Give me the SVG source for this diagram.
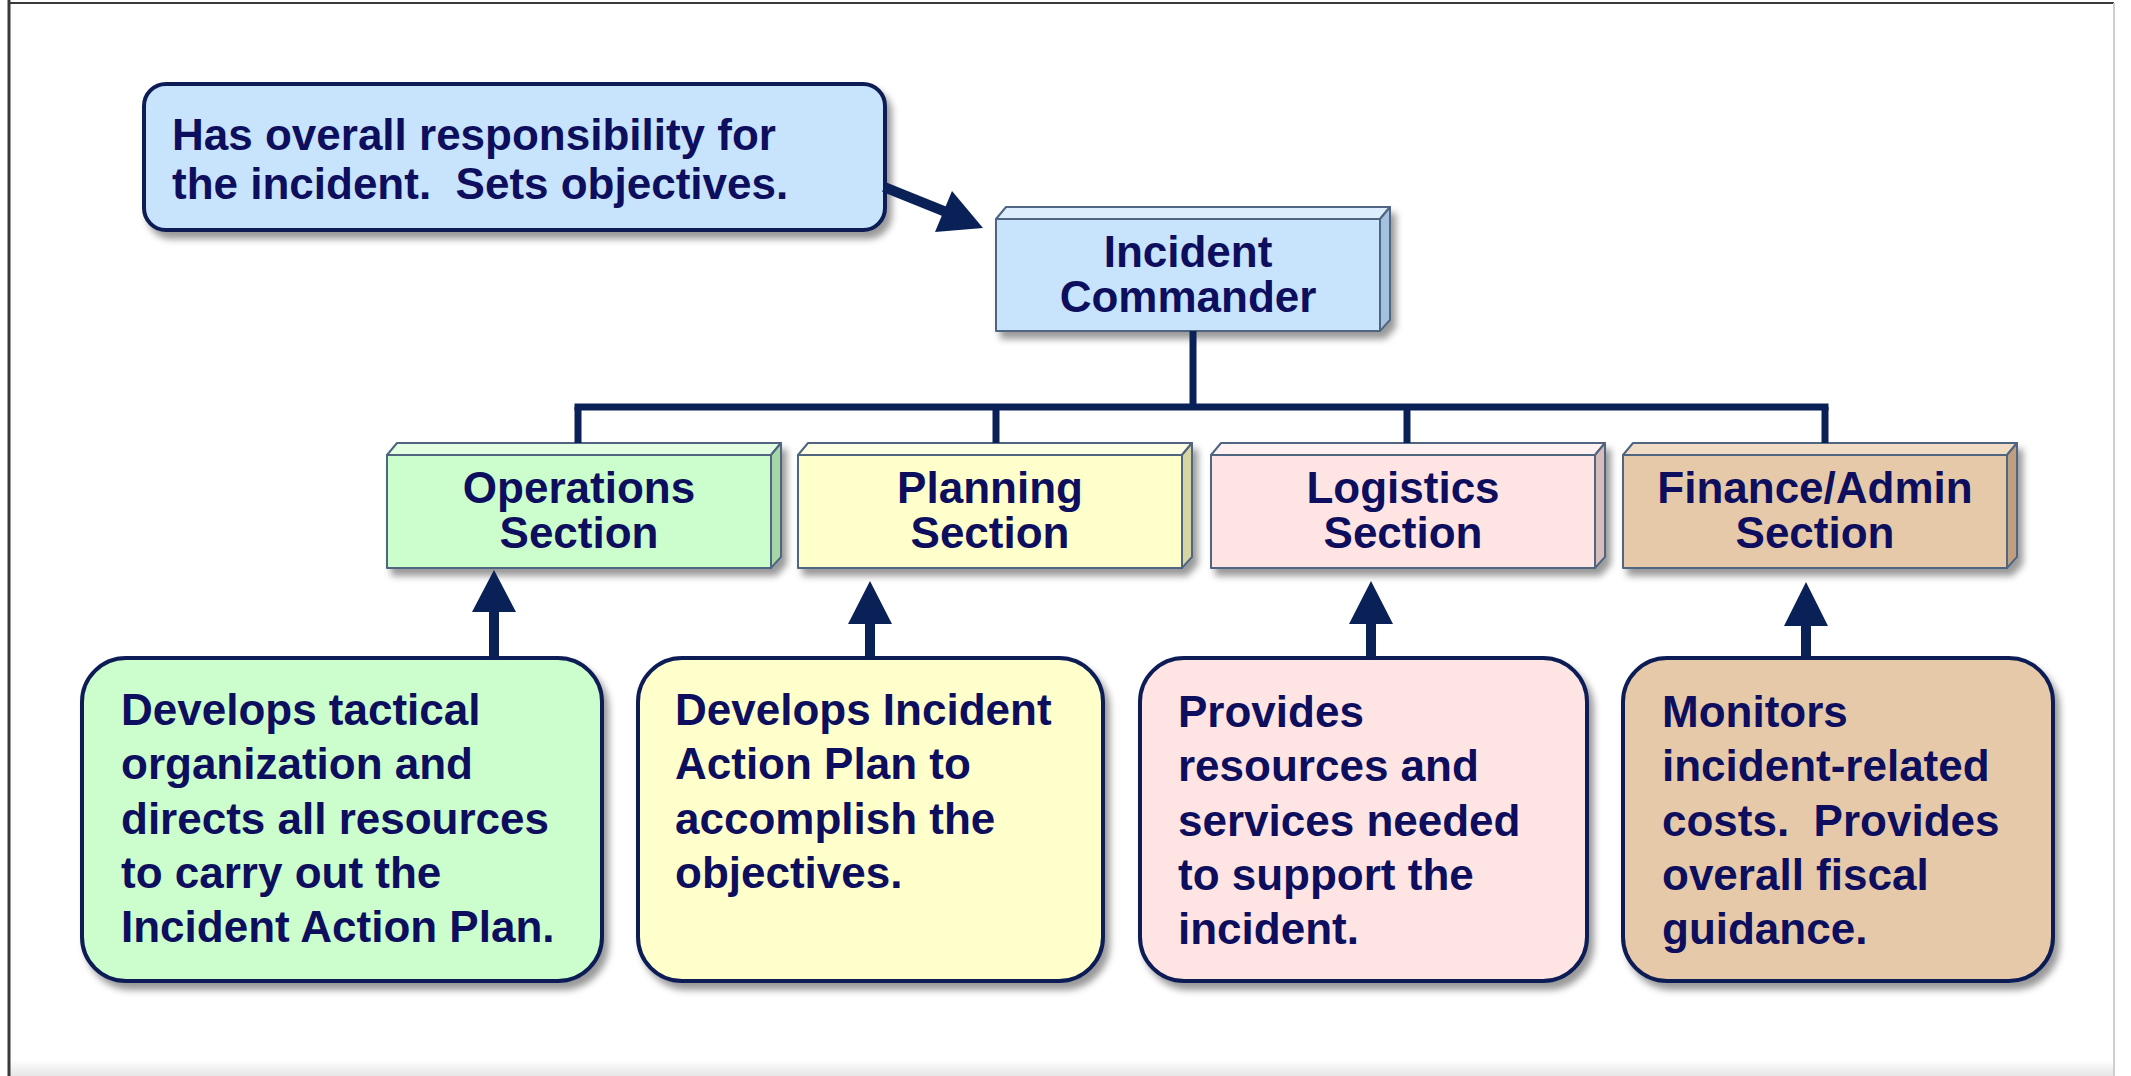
<svg xmlns="http://www.w3.org/2000/svg" width="2131" height="1076" viewBox="0 0 2131 1076">
<defs>
<filter id="sh" x="-10%" y="-10%" width="125%" height="130%">
<feDropShadow dx="5" dy="7" stdDeviation="3.5" flood-color="#000" flood-opacity="0.4"/>
</filter>
<linearGradient id="bot" x1="0" y1="0" x2="0" y2="1">
<stop offset="0" stop-color="#ffffff"/>
<stop offset="1" stop-color="#e6e6e6"/>
</linearGradient>
</defs>
<style>
.t{font-family:"Liberation Sans",Arial,sans-serif;font-weight:bold;font-size:44px;fill:#0d0f5e}
.c{text-anchor:middle}
.edge{stroke:#4f6580;stroke-width:2;stroke-linejoin:round}
.rb{stroke:#0b1d55;stroke-width:4}
.ln{stroke:#0a2157;stroke-width:7;fill:none}
.ar{fill:#0a2157;stroke:none}
</style>
<rect x="0" y="0" width="2131" height="1076" fill="#ffffff"/>
<rect x="9" y="1060" width="2105" height="16" fill="url(#bot)"/>
<g id="frame" fill="none">
<line x1="9" y1="0" x2="9" y2="1076" stroke="#3a3a3a" stroke-width="3"/>
<line x1="9" y1="3" x2="2114" y2="3" stroke="#3a3a3a" stroke-width="2"/>
<line x1="2114" y1="3" x2="2114" y2="1076" stroke="#cfcfcf" stroke-width="2"/>
</g>

<g id="callout-ic">
<rect x="144" y="84" width="741" height="146" rx="22" fill="#c8e3fc" class="rb" filter="url(#sh)"/>
<text class="t" x="172" y="150" xml:space="preserve">Has overall responsibility for</text>
<text class="t" x="172" y="199" xml:space="preserve">the incident.  Sets objectives.</text>
</g>

<g id="incident-commander">
<g filter="url(#sh)">
<rect x="996" y="219" width="384" height="112" fill="#c8e3fc" class="edge"/>
<polygon points="996,219 1006,207 1390,207 1380,219" fill="#dcedfd" class="edge"/>
<polygon points="1380,219 1390,207 1390,320 1380,331" fill="#a4c2e0" class="edge"/>
</g>
<text class="t c" x="1188" y="267">Incident</text>
<text class="t c" x="1188" y="312">Commander</text>
</g>

<g id="operations-section">
<g filter="url(#sh)">
<rect x="387" y="455" width="384" height="113" fill="#ccfdcc" class="edge"/>
<polygon points="387,455 397,443 781,443 771,455" fill="#e2ffe2" class="edge"/>
<polygon points="771,455 781,443 781,557 771,568" fill="#a6d6a6" class="edge"/>
</g>
<text class="t c" x="579" y="503">Operations</text>
<text class="t c" x="579" y="548">Section</text>
</g>

<g id="planning-section">
<g filter="url(#sh)">
<rect x="798" y="455" width="384" height="113" fill="#ffffcc" class="edge"/>
<polygon points="798,455 808,443 1192,443 1182,455" fill="#ffffe4" class="edge"/>
<polygon points="1182,455 1192,443 1192,557 1182,568" fill="#d6d6a2" class="edge"/>
</g>
<text class="t c" x="990" y="503">Planning</text>
<text class="t c" x="990" y="548">Section</text>
</g>

<g id="logistics-section">
<g filter="url(#sh)">
<rect x="1211" y="455" width="384" height="113" fill="#ffe4e4" class="edge"/>
<polygon points="1211,455 1221,443 1605,443 1595,455" fill="#fff1f1" class="edge"/>
<polygon points="1595,455 1605,443 1605,557 1595,568" fill="#d8bcbc" class="edge"/>
</g>
<text class="t c" x="1403" y="503">Logistics</text>
<text class="t c" x="1403" y="548">Section</text>
</g>

<g id="finance-admin-section">
<g filter="url(#sh)">
<rect x="1623" y="455" width="384" height="113" fill="#e5c9a9" class="edge"/>
<polygon points="1623,455 1633,443 2017,443 2007,455" fill="#f0dcc4" class="edge"/>
<polygon points="2007,455 2017,443 2017,557 2007,568" fill="#bf9f7f" class="edge"/>
</g>
<text class="t c" x="1815" y="503">Finance/Admin</text>
<text class="t c" x="1815" y="548">Section</text>
</g>

<g id="ops-desc">
<rect x="82" y="658" width="520" height="323" rx="44" fill="#ccfdcc" class="rb" filter="url(#sh)"/>
<text class="t" x="121" y="725">Develops tactical</text>
<text class="t" x="121" y="779">organization and</text>
<text class="t" x="121" y="834">directs all resources</text>
<text class="t" x="121" y="888">to carry out the</text>
<text class="t" x="121" y="942">Incident Action Plan.</text>
</g>

<g id="planning-desc">
<rect x="638" y="658" width="465" height="323" rx="44" fill="#ffffcc" class="rb" filter="url(#sh)"/>
<text class="t" x="675" y="725">Develops Incident</text>
<text class="t" x="675" y="779">Action Plan to</text>
<text class="t" x="675" y="834">accomplish the</text>
<text class="t" x="675" y="888">objectives.</text>
</g>

<g id="logistics-desc">
<rect x="1140" y="658" width="447" height="323" rx="44" fill="#ffe4e4" class="rb" filter="url(#sh)"/>
<text class="t" x="1178" y="727">Provides</text>
<text class="t" x="1178" y="781">resources and</text>
<text class="t" x="1178" y="836">services needed</text>
<text class="t" x="1178" y="890">to support the</text>
<text class="t" x="1178" y="944">incident.</text>
</g>

<g id="finance-desc">
<rect x="1623" y="658" width="430" height="323" rx="44" fill="#e5c9a9" class="rb" filter="url(#sh)"/>
<text class="t" x="1662" y="727">Monitors</text>
<text class="t" x="1662" y="781">incident-related</text>
<text class="t" x="1662" y="836" xml:space="preserve">costs.  Provides</text>
<text class="t" x="1662" y="890">overall fiscal</text>
<text class="t" x="1662" y="944">guidance.</text>
</g>

<g id="connectors">
<line class="ln" x1="1193" y1="331" x2="1193" y2="407"/>
<line class="ln" x1="574.5" y1="407" x2="1828.5" y2="407"/>
<line class="ln" x1="578" y1="407" x2="578" y2="443"/>
<line class="ln" x1="996" y1="407" x2="996" y2="443"/>
<line class="ln" x1="1407" y1="407" x2="1407" y2="443"/>
<line class="ln" x1="1825" y1="407" x2="1825" y2="443"/>
<line stroke="#0a2157" stroke-width="10" x1="884" y1="187" x2="946" y2="212"/>
<polygon class="ar" points="983,228 952,191 935,232"/>
<polygon class="ar" points="494,570 516,612 499,612 499,657 489,657 489,612 472,612"/>
<polygon class="ar" points="870,581 892,624 875,624 875,657 865,657 865,624 848,624"/>
<polygon class="ar" points="1371,581 1393,624 1376,624 1376,657 1366,657 1366,624 1349,624"/>
<polygon class="ar" points="1806,582 1828,626 1811,626 1811,657 1801,657 1801,626 1784,626"/>
</g>
</svg>
